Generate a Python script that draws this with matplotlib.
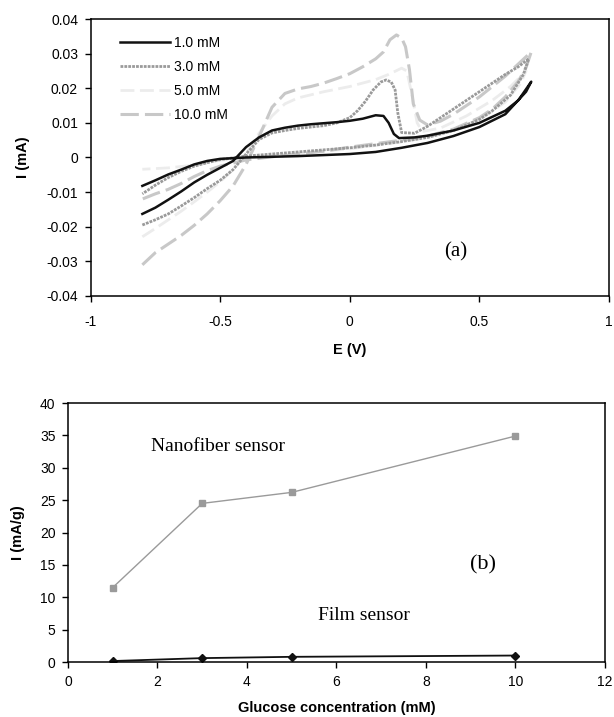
import matplotlib
matplotlib.use("Agg")
import matplotlib.pyplot as plt

plt.rcParams["font.family"] = ["Liberation Sans", "DejaVu Sans"]
plt.rcParams["axes.unicode_minus"] = False

# ---------------------------------------------------------------------------
# (a) cyclic voltammograms, forward scan then reverse scan
# ---------------------------------------------------------------------------
E_1mM = [-0.80, -0.75, -0.70, -0.65, -0.60, -0.55, -0.50, -0.45, -0.40, -0.35,
         -0.30, -0.25, -0.20, -0.15, -0.10, -0.05, 0.00, 0.05, 0.10, 0.13,
         0.15, 0.17, 0.19, 0.25, 0.30, 0.40, 0.50, 0.60, 0.65, 0.70,
         0.68, 0.60, 0.50, 0.40, 0.30, 0.20, 0.10, 0.00, -0.10, -0.20,
         -0.30, -0.40, -0.50, -0.55, -0.60, -0.65, -0.70, -0.75, -0.80]
I_1mM = [-0.0163, -0.0145, -0.0122, -0.0098, -0.0072, -0.0050, -0.0030, -0.0010, 0.0030, 0.0058,
         0.0078, 0.0086, 0.0092, 0.0096, 0.0099, 0.0102, 0.0106, 0.0112, 0.0122, 0.0120,
         0.0100, 0.0068, 0.0056, 0.0058, 0.0063, 0.0078, 0.0100, 0.0135, 0.0165, 0.0219,
         0.0190, 0.0125, 0.0088, 0.0062, 0.0042, 0.0028, 0.0016, 0.0010, 0.0007, 0.0004,
         0.0002, 0.0000, -0.0004, -0.0010, -0.0020, -0.0035, -0.0049, -0.0066, -0.0082]

E_3mM = [-0.80, -0.75, -0.70, -0.65, -0.60, -0.55, -0.50, -0.45, -0.40, -0.35,
         -0.30, -0.25, -0.20, -0.15, -0.10, -0.05, 0.00, 0.03, 0.06, 0.09,
         0.12, 0.14, 0.16, 0.175, 0.185, 0.20, 0.25, 0.30, 0.35, 0.40,
         0.45, 0.50, 0.55, 0.60, 0.65, 0.69,
         0.67, 0.62, 0.55, 0.50, 0.40, 0.30, 0.20, 0.10, 0.00, -0.10,
         -0.20, -0.30, -0.40, -0.50, -0.55, -0.60, -0.65, -0.70, -0.75, -0.80]
I_3mM = [-0.0195, -0.0180, -0.0163, -0.0140, -0.0116, -0.0090, -0.0066, -0.0035, 0.0010, 0.0052,
         0.0071, 0.0078, 0.0084, 0.0088, 0.0092, 0.0100, 0.0115, 0.0135, 0.0162, 0.0195,
         0.0218, 0.0224, 0.0218, 0.0195, 0.0130, 0.0072, 0.0070, 0.0090, 0.0115, 0.0140,
         0.0165, 0.0190, 0.0215, 0.0240, 0.0262, 0.0285,
         0.0240, 0.0180, 0.0135, 0.0110, 0.0078, 0.0058, 0.0046, 0.0036, 0.0028, 0.0022,
         0.0016, 0.0010, 0.0004, -0.0006, -0.0015, -0.0025, -0.0040, -0.0058, -0.0080, -0.0105]

E_5mM = [-0.80, -0.75, -0.70, -0.65, -0.60, -0.55, -0.50, -0.45, -0.40, -0.35,
         -0.30, -0.25, -0.20, -0.10, 0.00, 0.10, 0.15, 0.20, 0.22, 0.24,
         0.26, 0.28, 0.35, 0.45, 0.55, 0.62, 0.68,
         0.66, 0.60, 0.50, 0.40, 0.30, 0.20, 0.00, -0.20, -0.40, -0.50,
         -0.60, -0.70, -0.80]
I_5mM = [-0.0229, -0.0205, -0.0180, -0.0155, -0.0128, -0.0100, -0.0070, -0.0035, 0.0010, 0.0070,
         0.0120, 0.0155, 0.0172, 0.0190, 0.0205, 0.0225, 0.0240, 0.0258, 0.0250, 0.0180,
         0.0100, 0.0075, 0.0085, 0.0120, 0.0165, 0.0205, 0.0250,
         0.0215, 0.0160, 0.0110, 0.0078, 0.0058, 0.0045, 0.0025, 0.0012, 0.0000, -0.0008,
         -0.0022, -0.0030, -0.0034]

E_10mM = [-0.80, -0.75, -0.70, -0.65, -0.60, -0.55, -0.50, -0.45, -0.40, -0.35,
          -0.30, -0.25, -0.20, -0.15, -0.10, -0.05, 0.00, 0.05, 0.10, 0.13,
          0.155, 0.18, 0.20, 0.215, 0.23, 0.245, 0.27, 0.30, 0.35, 0.40,
          0.45, 0.50, 0.55, 0.60, 0.65, 0.70,
          0.68, 0.65, 0.60, 0.55, 0.50, 0.40, 0.30, 0.20, 0.10, 0.00,
          -0.10, -0.20, -0.30, -0.40, -0.50, -0.55, -0.60, -0.65, -0.70, -0.75, -0.80]
I_10mM = [-0.0310, -0.0275, -0.0250, -0.0225, -0.0196, -0.0163, -0.0125, -0.0082, -0.0020, 0.0060,
          0.0145, 0.0185, 0.0198, 0.0205, 0.0215, 0.0228, 0.0242, 0.0262, 0.0285, 0.0305,
          0.0340, 0.0354, 0.0345, 0.0320, 0.0255, 0.0155, 0.0108, 0.0094, 0.0105, 0.0125,
          0.0150, 0.0175, 0.0205, 0.0235, 0.0270, 0.0305,
          0.0260, 0.0220, 0.0175, 0.0140, 0.0115, 0.0082, 0.0062, 0.0050, 0.0040, 0.0030,
          0.0018, 0.0010, 0.0002, -0.0007, -0.0025, -0.0038, -0.0055, -0.0075, -0.0092, -0.0105, -0.0120]

CV_LABELS = ["1.0 mM", "3.0 mM", "5.0 mM", "10.0 mM"]
A_XTICKS = [-1, -0.5, 0, 0.5, 1]
A_XTICKLABELS = ["-1", "-0.5", "0", "0.5", "1"]
A_YTICKS = [-0.04, -0.03, -0.02, -0.01, 0, 0.01, 0.02, 0.03, 0.04]
A_YTICKLABELS = ["-0.04", "-0.03", "-0.02", "-0.01", "0", "0.01", "0.02", "0.03", "0.04"]

# ---------------------------------------------------------------------------
# (b) current vs glucose concentration
# ---------------------------------------------------------------------------
glucose = [1, 3, 5, 10]
nanofiber = [11.5, 24.5, 26.2, 34.9]
film = [0.15, 0.6, 0.8, 1.0]
B_XTICKS = [0, 2, 4, 6, 8, 10, 12]
B_YTICKS = [0, 5, 10, 15, 20, 25, 30, 35, 40]

fig = plt.figure(figsize=(6.14, 7.17), dpi=100)
ax1 = fig.add_axes([0.1474, 0.5872, 0.8445, 0.3863])
ax2 = fig.add_axes([0.1107, 0.0767, 0.8746, 0.3612])

styles = [
    dict(color="#111111", lw=1.8, ls="-"),
    dict(color="#9a9a9a", lw=2.0, ls=(0, (1.0, 0.4))),
    dict(color="#ececec", lw=2.0, ls=(0, (5, 2))),
    dict(color="#c8c8c8", lw=2.2, ls=(0, (6, 2))),
]
curves = [(E_1mM, I_1mM), (E_3mM, I_3mM), (E_5mM, I_5mM), (E_10mM, I_10mM)]

# draw the faint ones first so the black trace sits on top
for idx in [2, 3, 1, 0]:
    E, I = curves[idx]
    ax1.plot(E, I, label=CV_LABELS[idx], **styles[idx])

handles, labels = ax1.get_legend_handles_labels()
order = [labels.index(l) for l in CV_LABELS]
ax1.legend([handles[i] for i in order], [labels[i] for i in order],
           loc="upper left", bbox_to_anchor=(0.057, 0.94), frameon=False,
           borderpad=0, borderaxespad=0, handlelength=3.6, handletextpad=0.3,
           labelspacing=0.72, fontsize=10)

ax1.set_xlim(-1, 1)
ax1.set_ylim(-0.04, 0.04)
ax1.set_xticks(A_XTICKS)
ax1.set_xticklabels(A_XTICKLABELS)
ax1.set_yticks(A_YTICKS)
ax1.set_yticklabels(A_YTICKLABELS)
ax1.set_xlabel("E (V)", fontweight="bold", fontsize=10.5, labelpad=10)
ax1.set_ylabel("I (mA)", fontweight="bold", fontsize=10.5, labelpad=12)
ax1.text(0.365, -0.0272, "(a)", family="Liberation Serif", fontsize=15, va="center")

ax2.plot(glucose, nanofiber, color="#9a9a9a", lw=1.0, marker="s", ms=4,
         mfc="#9a9a9a", mec="#9a9a9a")
ax2.plot(glucose, film, color="#111111", lw=1.3, marker="D", ms=3.8,
         mfc="#111111", mec="#111111")
ax2.set_xlim(0, 12)
ax2.set_ylim(0, 40)
ax2.set_xticks(B_XTICKS)
ax2.set_yticks(B_YTICKS)
ax2.set_xlabel("Glucose concentration (mM)", fontweight="bold", fontsize=10.5, labelpad=9)
ax2.set_ylabel("I (mA/g)", fontweight="bold", fontsize=10.5, labelpad=11)
ax2.text(1.85, 33.25, "Nanofiber sensor", family="Liberation Serif", fontsize=14, va="center")
ax2.text(5.59, 7.26, "Film sensor", family="Liberation Serif", fontsize=14, va="center")
ax2.text(8.98, 15.0, "(b)", family="Liberation Serif", fontsize=16, va="center")

for ax in (ax1, ax2):
    ax.tick_params(direction="out", length=4, width=1, labelsize=10, pad=5)
    for s in ax.spines.values():
        s.set_linewidth(1.1)
ax1.tick_params(axis="x", pad=10)

fig.savefig("out.png", dpi=100)
